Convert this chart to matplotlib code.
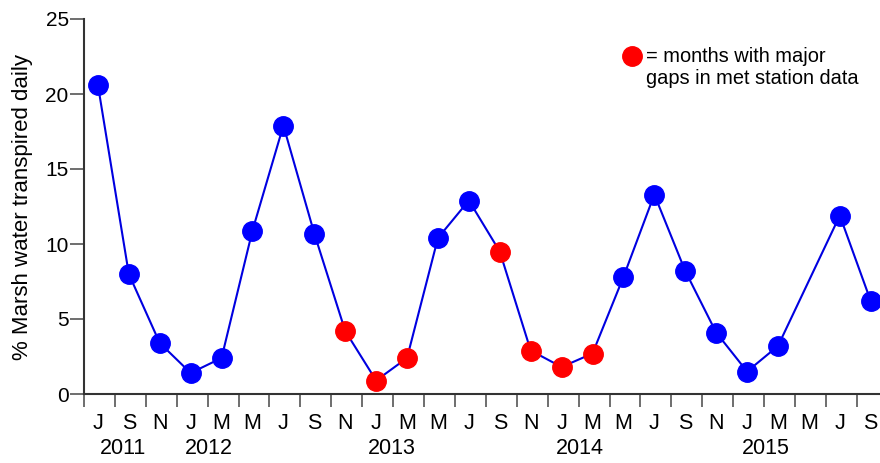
import matplotlib
matplotlib.use("Agg")
import matplotlib.pyplot as plt
from matplotlib.lines import Line2D
import numpy as np

plt.rcParams['font.family'] = ['Liberation Sans', 'DejaVu Sans']

month_labels = ["J", "S", "N", "J", "M", "M", "J", "S", "N", "J", "M", "M", "J",
                "S", "N", "J", "M", "M", "J", "S", "N", "J", "M", "M", "J", "S"]
values = [20.6, 8.0, 3.4, 1.4, 2.4, 10.9, 17.9, 10.7, 4.2, 0.9, 2.4, 10.4, 12.9,
          9.5, 2.9, 1.8, 2.7, 7.8, 13.3, 8.2, 4.1, 1.5, 3.2, None, 11.9, 6.2]
gap_months = [False, False, False, False, False, False, False, False, True, True, True, False, False,
              True, True, True, True, False, False, False, False, False, False, False, False, False]
year_labels = ["2011", "2012", "2013", "2014", "2015"]
year_positions = [0.8, 3.6, 9.5, 15.6, 21.6]
y_ticks = [0, 5, 10, 15, 20, 25]

fig = plt.figure(figsize=(8.8, 4.63), dpi=100)
ax = fig.add_axes([84/880, 1 - 394/463, 1 - 84/880, (394 - 19)/463])

idx = [i for i, v in enumerate(values) if v is not None]
xs = np.array(idx)
ys = np.array([values[i] for i in idx])
gaps = np.array([gap_months[i] for i in idx])

ax.plot(xs, ys, color='#0000e0', lw=1.5, zorder=2)
ax.plot(xs[~gaps], ys[~gaps], 'o', color='#0000ff', ms=14, mec='#0000ff', zorder=3, ls='none')
ax.plot(xs[gaps], ys[gaps], 'o', color='#ff0000', ms=14, mec='#ff0000', zorder=3, ls='none')

ax.set_xlim(-0.45, 25.3)
ax.set_ylim(0, 25)
ax.set_yticks(y_ticks)
ax.set_xticks(range(len(month_labels)))
ax.set_xticklabels(month_labels)
ax.set_xticks(np.arange(-0.45, len(month_labels) - 0.5, 1), minor=True)
ax.tick_params(axis='x', which='major', length=0, pad=14, labelsize=15.5)
ax.tick_params(axis='x', which='minor', length=9, width=1.2, color='#555555')
ax.tick_params(axis='y', length=10, width=1.2, color='#555555', pad=1, labelsize=15)

for s in ['top', 'right']:
    ax.spines[s].set_visible(False)
for s in ['left', 'bottom']:
    ax.spines[s].set_linewidth(1.5)
    ax.spines[s].set_color('#333333')

ax.set_ylabel('% Marsh water transpired daily', fontsize=16, labelpad=9)

for lab, pos in zip(year_labels, year_positions):
    ax.annotate(lab, xy=(pos, 0), xycoords=('data', 'axes fraction'),
                xytext=(0, -55), textcoords='offset pixels', ha='center', va='center', fontsize=15.5)

fig.add_artist(Line2D([632/880], [1 - 56/463], marker='o', color='#ff0000', ms=14,
                      ls='none', transform=fig.transFigure))
fig.text(646/880, 1 - 68/463, '= months with major\ngaps in met station data',
         fontsize=14.4, ha='left', va='center', linespacing=1.2)

fig.savefig('out.png', dpi=100)
